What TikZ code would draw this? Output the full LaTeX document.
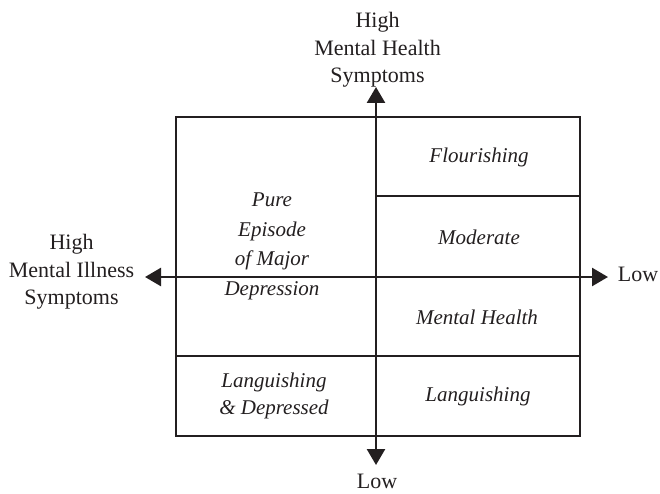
\documentclass[tikz,border=0pt]{standalone}
\usepackage{fontspec}
\setmainfont{Liberation Serif}
\usetikzlibrary{arrows.meta}
\definecolor{ink}{HTML}{231F20}
\begin{document}
\begin{tikzpicture}[x=1pt,y=-1pt,
  grid/.style={draw=ink,line width=1.2pt},
  axis/.style={draw=ink,line width=2.6pt,
    {Triangle[length=16pt,width=18pt]}-{Triangle[length=16pt,width=18pt]}},
  lbl/.style={font=\fontsize{22}{27.5}\selectfont,text=ink,align=center,inner sep=0pt},
  cell/.style={font=\fontsize{21}{28}\selectfont\itshape,text=ink,align=center,inner sep=0pt}]
  \useasboundingbox (0,0) rectangle (660,494);

  % quadrant frame and cell dividers
  \draw[grid] (176,117) rectangle (580,436);
  \coordinate (midR) at (376,196);
  \coordinate (midRend) at (580,196);
  \coordinate (lowL) at (176,356);
  \coordinate (lowR) at (580,356);
  \draw[grid] (midR) -- (midRend);
  \draw[grid] (lowL) -- (lowR);

  % axes
  \coordinate (top) at (376,87);
  \coordinate (bottom) at (376,465);
  \coordinate (left) at (145,277);
  \coordinate (right) at (608,277);
  \draw[axis] (bottom) -- (top);
  \draw[axis] (left) -- (right);

  % axis labels
  \node[lbl] (mhHigh) at (377.5,50) {High\\Mental Health\\Symptoms};
  \node[lbl] (mhLow) at (377,481) {Low};
  \node[lbl] (miHigh) at (71.5,272) {High\\Mental Illness\\Symptoms};
  \node[lbl] (miLow) at (638,274) {Low};

  % cell labels
  \node[cell] (flour) at (479,157) {Flourishing};
  \node[cell] (moder) at (479,237) {Moderate};
  \node[cell] (mhealth) at (477,317) {Mental Health};
  \node[cell] (lang) at (478,396) {Languishing};
  \node[cell,font=\fontsize{21}{29.5}\selectfont\itshape] (pure) at (272,246.5) {Pure\\Episode\\of Major\\Depression};
  \node[cell,font=\fontsize{21}{27}\selectfont\itshape] (langdep) at (274,396) {Languishing\\\& Depressed};
\end{tikzpicture}
\end{document}
